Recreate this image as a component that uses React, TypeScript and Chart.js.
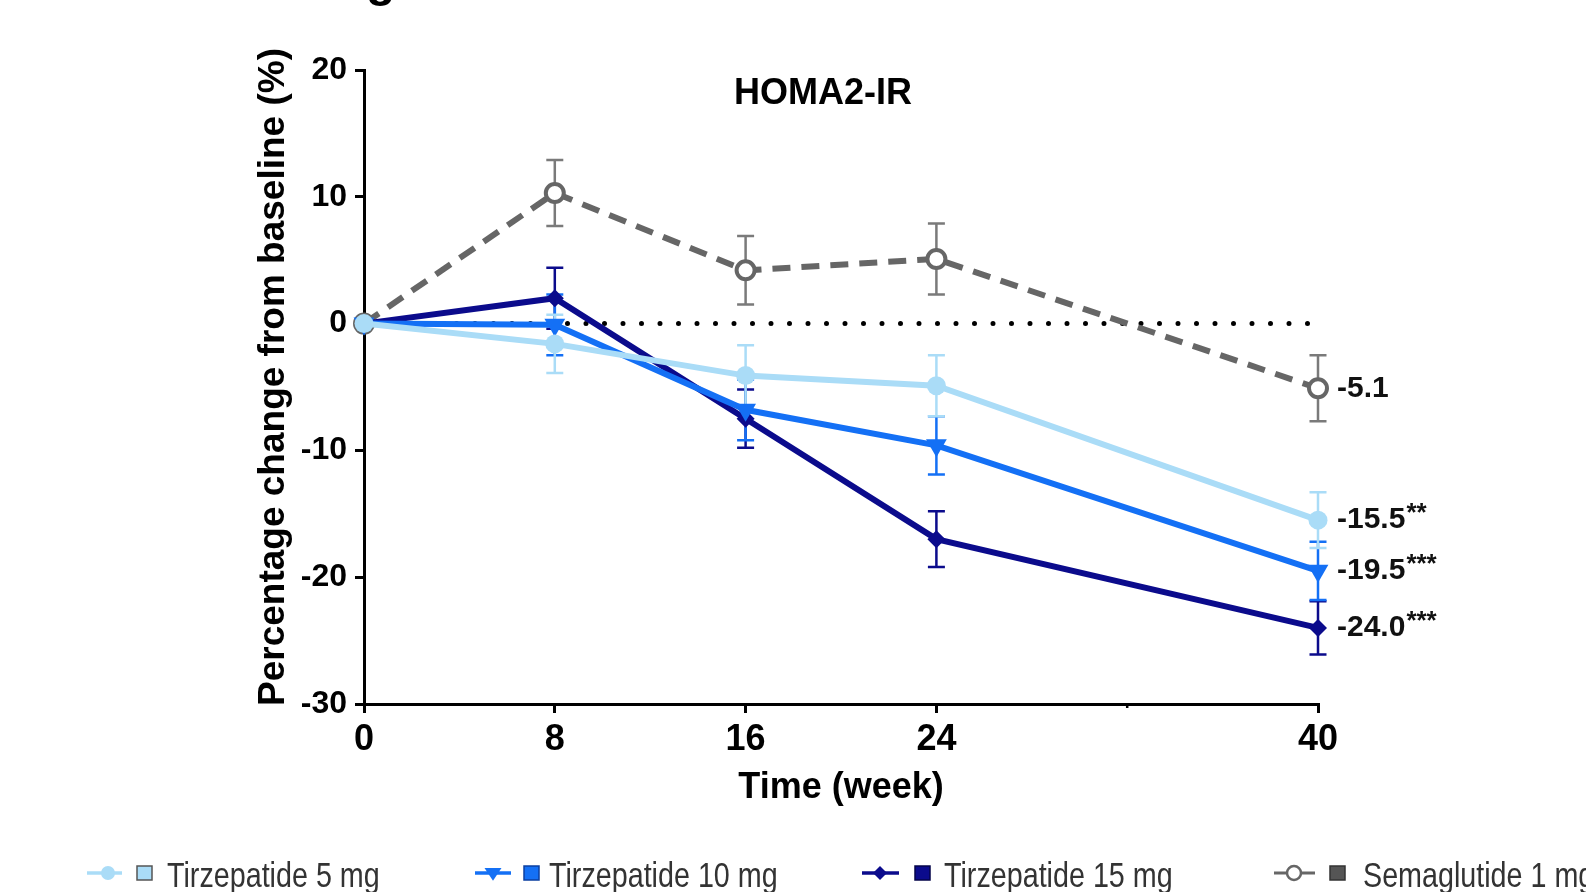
import React, { useEffect, useRef } from 'react';
import { Chart, registerables } from 'chart.js';

Chart.register(...registerables);

// ---- Data ----
const weeks = [0, 8, 16, 24, 40];
const seriesNames = ['Tirzepatide 5 mg', 'Tirzepatide 10 mg', 'Tirzepatide 15 mg', 'Semaglutide 1 mg'];
const tirz5 = [0, -1.6, -4.1, -4.9, -15.5];
const tirz5SE = [0, 2.3, 2.4, 2.4, 2.2];
const tirz10 = [0, -0.1, -6.8, -9.6, -19.5];
const tirz10SE = [0, 2.4, 2.4, 2.3, 2.3];
const tirz15 = [0, 2.0, -7.5, -17.0, -24.0];
const tirz15SE = [0, 2.4, 2.3, 2.2, 2.1];
const sema = [0, 10.3, 4.2, 5.1, -5.1];
const semaSE = [0, 2.6, 2.7, 2.8, 2.6];
const endLabels = ['-15.5', '-19.5', '-24.0', '-5.1'];
const endStars = ['**', '***', '***', ''];
const xTicks = [0, 8, 16, 24, 32, 40];
const xTickLabels = ['0', '8', '16', '24', '', '40'];
const yTicks = [-30, -20, -10, 0, 10, 20];
const chartTitle = 'HOMA2-IR';
const xTitle = 'Time (week)';
const yTitle = 'Percentage change from baseline (%)';

const FONT = "'Liberation Sans', Arial, Helvetica, sans-serif";
const C5 = '#aadcf7';
const C10 = '#1470f5';
const C15 = '#0b0b8c';
const CG = '#666666';

export default function App() {
  const ref = useRef<HTMLCanvasElement>(null);

  useEffect(() => {
    const canvas = ref.current;
    if (!canvas) return;

    const series = [
      { name: seriesNames[0], values: tirz5, se: tirz5SE, color: C5, err: C5, style: 'circle', radius: 9.5, rot: 0, fill: C5, border: C5, bw: 0, dash: [] as number[], label: endLabels[0], stars: endStars[0], sq: C5, sqBorder: '#555' },
      { name: seriesNames[1], values: tirz10, se: tirz10SE, color: C10, err: C10, style: 'triangle', radius: 12, rot: 180, fill: C10, border: C10, bw: 0, dash: [] as number[], label: endLabels[1], stars: endStars[1], sq: C10, sqBorder: '#0b3fa0' },
      { name: seriesNames[2], values: tirz15, se: tirz15SE, color: C15, err: C15, style: 'rectRot', radius: 9, rot: 0, fill: C15, border: C15, bw: 0, dash: [] as number[], label: endLabels[2], stars: endStars[2], sq: C15, sqBorder: '#05054a' },
      { name: seriesNames[3], values: sema, se: semaSE, color: CG, err: '#7a7a7a', style: 'circle', radius: 9, rot: 0, fill: '#ffffff', border: CG, bw: 4, dash: [18, 11], label: endLabels[3], stars: endStars[3], sq: '#555555', sqBorder: '#333' },
    ];

    const datasets: any[] = series.map((s, i) => ({
      label: s.name,
      data: weeks.map((w, j) => ({ x: w, y: s.values[j] })),
      borderColor: s.color,
      borderWidth: 6,
      borderDash: s.dash,
      pointStyle: s.style,
      pointRadius: s.radius,
      pointHoverRadius: s.radius,
      pointRotation: s.rot,
      pointBackgroundColor: s.fill,
      pointBorderColor: s.border,
      pointBorderWidth: s.bw,
      tension: 0,
      fill: false,
      clip: false,
      order: i + 1,
    }));
    datasets.push({
      label: 'baseline',
      data: [{ x: 0, y: 0 }, { x: 40, y: 0 }],
      borderColor: '#000',
      borderWidth: 5,
      borderDash: [0, 18.5],
      borderCapStyle: 'round',
      pointRadius: 0,
      fill: false,
      order: 10,
    });

    const errorBars = {
      id: 'errorBars',
      beforeDatasetsDraw(chart: any) {
        const { ctx, scales } = chart;
        const x = scales.x, y = scales.y;
        ctx.save();
        [...series].reverse().forEach((s) => {
          ctx.strokeStyle = s.err;
          ctx.lineWidth = 2.5;
          weeks.forEach((w, i) => {
            if (!s.se[i]) return;
            const px = x.getPixelForValue(w);
            const top = y.getPixelForValue(s.values[i] + s.se[i]);
            const bot = y.getPixelForValue(s.values[i] - s.se[i]);
            ctx.beginPath();
            ctx.moveTo(px, top); ctx.lineTo(px, bot);
            ctx.moveTo(px - 8.5, top); ctx.lineTo(px + 8.5, top);
            ctx.moveTo(px - 8.5, bot); ctx.lineTo(px + 8.5, bot);
            ctx.stroke();
          });
        });
        ctx.restore();
      },
    };

    const drawMarker = (ctx: any, style: string, x: number, y: number, r: number, fill: string, stroke: string, bw: number, rot: number) => {
      ctx.save();
      ctx.fillStyle = fill;
      ctx.strokeStyle = stroke;
      ctx.lineWidth = bw;
      ctx.beginPath();
      if (style === 'circle') {
        ctx.arc(x, y, r, 0, Math.PI * 2);
      } else if (style === 'triangle') {
        const dir = rot === 180 ? 1 : -1;
        ctx.moveTo(x - r, y - dir * r * 0.6);
        ctx.lineTo(x + r, y - dir * r * 0.6);
        ctx.lineTo(x, y + dir * r * 0.9);
        ctx.closePath();
      } else if (style === 'rectRot') {
        ctx.moveTo(x, y - r);
        ctx.lineTo(x + r, y);
        ctx.lineTo(x, y + r);
        ctx.lineTo(x - r, y);
        ctx.closePath();
      }
      ctx.fill();
      if (bw > 0) ctx.stroke();
      ctx.restore();
    };

    const annotations = {
      id: 'annotations',
      afterDraw(chart: any) {
        const { ctx, chartArea, scales } = chart;
        const x = scales.x, y = scales.y;
        ctx.save();

        // Cut-off heading glyph at top
        ctx.fillStyle = '#000';
        ctx.font = `bold 48px ${FONT}`;
        ctx.textAlign = 'left';
        ctx.textBaseline = 'alphabetic';
        ctx.fillText('g', 366, -4.5);

        // Chart title
        ctx.font = `bold 36px ${FONT}`;
        ctx.textAlign = 'center';
        ctx.textBaseline = 'middle';
        ctx.fillText(chartTitle, chartArea.left + 459, chartArea.top + 24);

        // Y axis title
        ctx.save();
        ctx.translate(chartArea.left - 90, chartArea.top + 307);
        ctx.rotate(-Math.PI / 2);
        ctx.font = `bold 37px ${FONT}`;
        ctx.textAlign = 'center';
        ctx.textBaseline = 'middle';
        ctx.fillStyle = '#000';
        ctx.fillText(yTitle, 0, 0);
        ctx.restore();

        // Minor tick at 32
        const p32 = x.getPixelForValue(32);
        ctx.strokeStyle = '#000';
        ctx.lineWidth = 2.5;
        ctx.beginPath();
        ctx.moveTo(p32, chartArea.bottom);
        ctx.lineTo(p32, chartArea.bottom + 4);
        ctx.stroke();

        // End labels
        series.forEach((s) => {
          const last = s.values.length - 1;
          const px = x.getPixelForValue(weeks[last]) + 19;
          const py = y.getPixelForValue(s.values[last]);
          ctx.fillStyle = '#111';
          ctx.font = `bold 30px ${FONT}`;
          ctx.textAlign = 'left';
          ctx.textBaseline = 'middle';
          ctx.fillText(s.label, px, py);
          if (s.stars) {
            const w = ctx.measureText(s.label).width;
            ctx.font = `bold 26px ${FONT}`;
            ctx.fillText(s.stars, px + w + 1, py - 6);
          }
        });

        // Legend
        const items = [
          { ls: 87, le: 122, mx: 108, sx: 137, tx: 167 },
          { ls: 475, le: 511, mx: 493, sx: 524, tx: 549 },
          { ls: 862, le: 899, mx: 880, sx: 915, tx: 944 },
          { ls: 1274, le: 1315, mx: 1294, sx: 1330, tx: 1363 },
        ];
        const ly = 873;
        series.forEach((s, i) => {
          const it = items[i];
          ctx.strokeStyle = s.color;
          ctx.lineWidth = i === 3 ? 3 : 3.5;
          ctx.beginPath();
          ctx.moveTo(it.ls, ly);
          ctx.lineTo(it.le, ly);
          ctx.stroke();
          const mr = i === 3 ? 7 : i === 1 ? 8.5 : 7;
          drawMarker(ctx, s.style, it.mx, ly, mr, s.fill, s.border, i === 3 ? 2.5 : 0, s.rot);
          ctx.fillStyle = s.sq;
          ctx.fillRect(it.sx, ly - 7, 15, 14);
          ctx.strokeStyle = s.sqBorder;
          ctx.lineWidth = 1.5;
          ctx.strokeRect(it.sx, ly - 7, 15, 14);
          ctx.save();
          ctx.translate(it.tx, 887);
          ctx.scale(0.82, 1);
          ctx.fillStyle = '#333';
          ctx.font = `35px ${FONT}`;
          ctx.textAlign = 'left';
          ctx.textBaseline = 'alphabetic';
          ctx.fillText(s.name, 0, 0);
          ctx.restore();
        });

        ctx.restore();
      },
    };

    const chart = new Chart(canvas, {
      type: 'line',
      data: { datasets },
      plugins: [errorBars, annotations],
      options: {
        animation: false,
        responsive: false,
        maintainAspectRatio: false,
        layout: { padding: { left: 240, right: 268, top: 70, bottom: 72 } },
        plugins: {
          legend: { display: false },
          tooltip: { enabled: false },
          title: { display: false },
        },
        scales: {
          x: {
            type: 'linear',
            min: 0,
            max: 40,
            afterBuildTicks: (scale: any) => {
              scale.ticks = xTicks.map((v) => ({ value: v }));
            },
            afterFit: (scale: any) => {
              scale.height = 116;
            },
            ticks: {
              autoSkip: false,
              maxRotation: 0,
              color: '#000',
              padding: 5,
              font: { family: FONT, size: 36, weight: 'bold' },
              callback: (_v: any, i: number) => xTickLabels[i],
            },
            grid: {
              display: true,
              drawOnChartArea: false,
              drawTicks: true,
              tickLength: 9,
              lineWidth: 3,
              color: (c: any) => (c.tick && c.tick.value === 32 ? 'rgba(0,0,0,0)' : '#000'),
            },
            border: { display: true, color: '#000', width: 3 },
            title: {
              display: true,
              text: xTitle,
              color: '#000',
              font: { family: FONT, size: 36, weight: 'bold' },
              padding: { top: 0, bottom: 10 },
            },
          },
          y: {
            type: 'linear',
            min: -30,
            max: 20,
            afterBuildTicks: (scale: any) => {
              scale.ticks = yTicks.map((v) => ({ value: v }));
            },
            afterFit: (scale: any) => {
              scale.width = 124;
            },
            ticks: {
              color: '#000',
              padding: 8,
              font: { family: FONT, size: 32, weight: 'bold' },
              callback: (v: any) => String(v),
            },
            grid: {
              display: true,
              drawOnChartArea: false,
              drawTicks: true,
              tickLength: 9,
              lineWidth: 3,
              color: '#000',
            },
            border: { display: true, color: '#000', width: 3 },
            title: { display: false },
          },
        },
      } as any,
    });

    return () => chart.destroy();
  }, []);

  return (
    <div style={{ position: 'fixed', left: 0, top: 0, width: 1586, height: 892, background: '#fff', overflow: 'hidden' }}>
      <canvas ref={ref} width={1586} height={892} style={{ display: 'block', width: 1586, height: 892 }} />
    </div>
  );
}
